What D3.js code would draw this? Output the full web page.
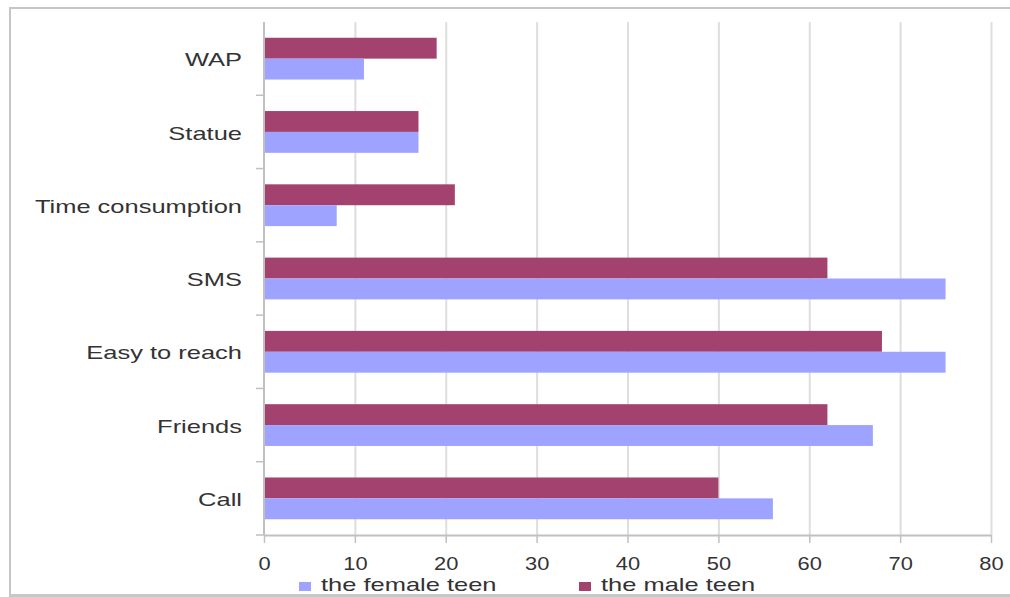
<!DOCTYPE html>
<html>
<head>
<meta charset="utf-8">
<script src="https://cdn.jsdelivr.net/npm/d3@7"></script>
<style>
  html, body { margin: 0; padding: 0; background: #fff; }
  svg { display: block; }
  text { font-family: "Liberation Sans", Arial, sans-serif; fill: #333; }
</style>
</head>
<body>
<div id="chart"></div>
<script>
// ---- data ----
const categories = ["WAP", "Statue", "Time consumption", "SMS", "Easy to reach", "Friends", "Call"];
const maleValues = [19, 17, 21, 62, 68, 62, 50];
const femaleValues = [11, 17, 8, 75, 75, 67, 56];
const seriesKeys = ["male", "female"];
const seriesNames = { male: "the male teen", female: "the female teen" };
const legendOrder = ["female", "male"];
const xTicks = [0, 10, 20, 30, 40, 50, 60, 70, 80];

// ---- layout / style ----
const W = 1010, H = 597;
const colors = { male: "#a3426f", female: "#9da3ff" };
const plot = { left: 264, right: 991, top: 22, bottom: 535 };

const svg = d3.select("#chart").append("svg").attr("width", W).attr("height", H);

function stretch(sel, k) {
  sel.each(function () {
    const w = this.getComputedTextLength();
    d3.select(this).attr("textLength", w * k).attr("lengthAdjust", "spacingAndGlyphs");
  });
}

// frame
svg.append("line").attr("x1", 9).attr("x2", W).attr("y1", 8).attr("y2", 8)
  .attr("stroke", "#c6c6c6").attr("stroke-width", 2);
svg.append("line").attr("x1", 10).attr("x2", 10).attr("y1", 8).attr("y2", 596)
  .attr("stroke", "#c6c6c6").attr("stroke-width", 2);
svg.append("line").attr("x1", 9).attr("x2", W).attr("y1", 595.5).attr("y2", 595.5)
  .attr("stroke", "#c8c8c8").attr("stroke-width", 3);

const x = d3.scaleLinear().domain([0, 80]).range([plot.left, plot.right]);
const y0 = d3.scaleBand().domain(categories).range([plot.top, plot.bottom])
  .paddingInner(0.43).paddingOuter(0.215);
const y1 = d3.scaleBand().domain(seriesKeys).range([0, y0.bandwidth()]);

// gridlines
svg.append("g").attr("transform", `translate(0,${plot.bottom})`)
  .call(d3.axisBottom(x).tickValues(xTicks.filter(d => d !== 0)).tickSize(-(plot.bottom - plot.top)).tickFormat(""))
  .call(g => g.select(".domain").remove())
  .call(g => g.selectAll(".tick line").attr("stroke", "#dedede").attr("stroke-width", 2));

// bars
const rows = categories.map((c, i) => ({ cat: c, male: maleValues[i], female: femaleValues[i] }));
const groups = svg.append("g").selectAll("g").data(rows).join("g")
  .attr("transform", d => `translate(0,${y0(d.cat)})`);
groups.selectAll("rect")
  .data(d => seriesKeys.map(k => ({ key: k, value: d[k] })))
  .join("rect")
  .attr("x", x(0))
  .attr("y", d => y1(d.key))
  .attr("width", d => x(d.value) - x(0))
  .attr("height", y1.bandwidth())
  .attr("fill", d => colors[d.key]);

// x axis
const xAxis = svg.append("g").attr("transform", `translate(0,${plot.bottom})`)
  .call(d3.axisBottom(x).tickValues(xTicks).tickSize(8).tickSizeOuter(0).tickPadding(14));
xAxis.select(".domain").attr("stroke", "#c0c0c0").attr("stroke-width", 2);
xAxis.selectAll(".tick line").attr("stroke", "#c0c0c0").attr("stroke-width", 1.5);
xAxis.selectAll(".tick text").attr("font-size", 19).attr("fill", "#333")
  .attr("font-family", "'Liberation Sans', Arial, sans-serif").call(stretch, 1.15);

// y axis line and category-boundary ticks
const yAxis = svg.append("g");
yAxis.append("line").attr("x1", x(0)).attr("x2", x(0)).attr("y1", plot.top).attr("y2", plot.bottom)
  .attr("stroke", "#c0c0c0").attr("stroke-width", 2);
const boundaries = categories.map(c => y0(c) - y0.step() * y0.paddingOuter() + y0.step())
yAxis.selectAll("line.tk").data(boundaries).join("line").attr("class", "tk")
  .attr("x1", x(0) - 8).attr("x2", x(0)).attr("y1", d => d).attr("y2", d => d)
  .attr("stroke", "#c0c0c0").attr("stroke-width", 1.5);

// category labels
svg.append("g").selectAll("text").data(categories).join("text")
  .attr("x", x(0) - 22)
  .attr("y", d => y0(d) + y0.bandwidth() / 2 + 1)
  .attr("dy", "0.35em")
  .attr("text-anchor", "end")
  .attr("font-size", 19)
  .text(d => d)
  .call(stretch, 1.34);

// legend
const legendX = { female: 299, male: 579 };
const lg = svg.append("g").selectAll("g").data(legendOrder).join("g")
  .attr("transform", d => `translate(${legendX[d]},591)`);
lg.append("rect").attr("x", 0).attr("y", -9).attr("width", 12).attr("height", 9)
  .attr("fill", d => colors[d]);
lg.append("text").attr("x", 22).attr("y", 0).attr("font-size", 19)
  .text(d => seriesNames[d]).call(stretch, 1.34);
</script>
</body>
</html>
